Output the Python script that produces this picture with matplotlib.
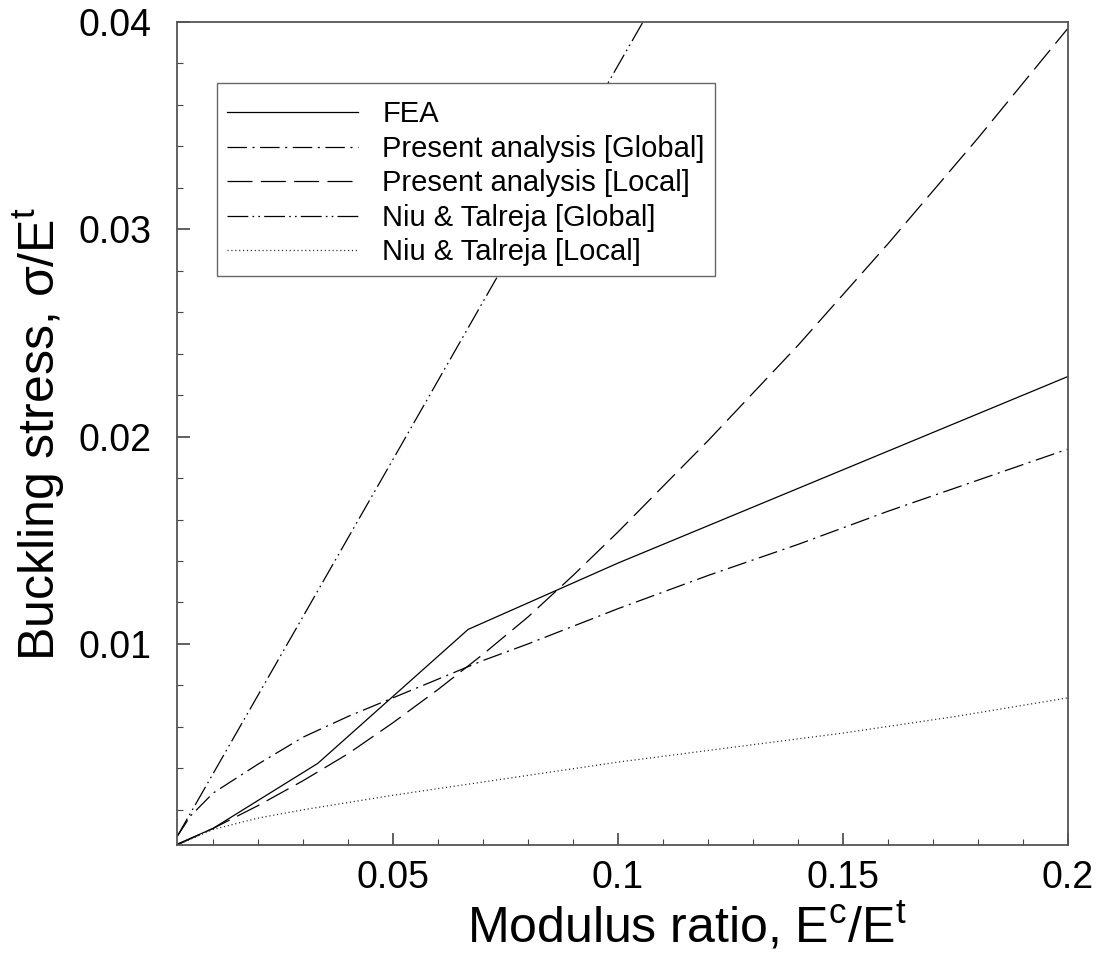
import matplotlib
matplotlib.use('Agg')
import matplotlib.pyplot as plt
from matplotlib.ticker import MultipleLocator, FixedLocator

plt.rcParams['font.family'] = ['Liberation Sans', 'DejaVu Sans']
plt.rcParams['mathtext.fontset'] = 'custom'
plt.rcParams['mathtext.rm'] = 'Liberation Sans'
plt.rcParams['lines.scale_dashes'] = False

# FEA
fea_x = [0.002, 0.010, 0.0333, 0.0667, 0.100, 0.150, 0.200]
fea_y = [0.00034, 0.0011, 0.00424, 0.0107, 0.0139, 0.0184, 0.0229]

# Present analysis [Global]
pg_x = [0.002, 0.005, 0.010, 0.015, 0.020, 0.030, 0.040, 0.050, 0.060, 0.070,
        0.080, 0.100, 0.120, 0.140, 0.160, 0.180, 0.200]
pg_y = [0.0007, 0.0017, 0.0028, 0.0035, 0.0042, 0.0055, 0.0065, 0.0074, 0.0083, 0.0092,
        0.0100, 0.0117, 0.0133, 0.0148, 0.0164, 0.0179, 0.0194]

# Present analysis [Local]
pl_x = [0.002, 0.010, 0.020, 0.030, 0.040, 0.050, 0.060, 0.070, 0.080, 0.090,
        0.100, 0.120, 0.140, 0.160, 0.180, 0.200]
pl_y = [0.0003, 0.0011, 0.0022, 0.0034, 0.0047, 0.0062, 0.0078, 0.0095, 0.0113, 0.0133,
        0.0154, 0.0198, 0.0244, 0.0293, 0.0344, 0.0397]

# Niu & Talreja [Global]
ng_x = [0.002, 0.050, 0.100, 0.150, 0.200]
ng_y = [0.0007, 0.0189, 0.0379, 0.0568, 0.0758]

# Niu & Talreja [Local]
nl_x = [0.002, 0.010, 0.020, 0.030, 0.050, 0.075, 0.100, 0.125, 0.150, 0.175, 0.200]
nl_y = [0.0003, 0.00105, 0.0016, 0.0020, 0.0027, 0.0035, 0.0043, 0.0050, 0.0057, 0.0065, 0.0074]

fig = plt.figure(figsize=(11.04, 9.63), dpi=100)
ax = fig.add_axes([0.1603, 0.1225, 0.8071, 0.8547])

lw = 0.9
ax.plot(fea_x, fea_y, color='black', lw=lw, ls='-', label='FEA')
ax.plot(pg_x, pg_y, color='black', lw=lw, ls=(0, (14, 4, 1.5, 4)),
        label='Present analysis [Global]')
ax.plot(pl_x, pl_y, color='black', lw=lw, ls=(0, (18, 6)),
        label='Present analysis [Local]')
ax.plot(ng_x, ng_y, color='black', lw=lw, ls=(0, (15, 3, 1.2, 3, 1.2, 3)),
        label='Niu & Talreja [Global]')
ax.plot(nl_x, nl_y, color='#222222', lw=lw, ls=(0, (0.8, 2.0)),
        label='Niu & Talreja [Local]')

ax.set_xlim(0.002, 0.2)
ax.set_ylim(0.0003, 0.04)

ax.xaxis.set_major_locator(FixedLocator([0.05, 0.1, 0.15, 0.2]))
ax.set_xticklabels(['0.05', '0.1', '0.15', '0.2'])
ax.xaxis.set_minor_locator(MultipleLocator(0.01))
ax.yaxis.set_major_locator(FixedLocator([0.01, 0.02, 0.03, 0.04]))
ax.set_yticklabels(['0.01', '0.02', '0.03', '0.04'])
ax.yaxis.set_minor_locator(MultipleLocator(0.002))

ax.tick_params(which='both', direction='in', color='#444444')
ax.tick_params(which='major', length=9, width=1.2, labelsize=27)
ax.tick_params(which='minor', length=4, width=0.8)
ax.tick_params(axis='x', which='major', pad=11)
ax.tick_params(axis='y', which='major', pad=18)

for s in ax.spines.values():
    s.set_color('#555555')
    s.set_linewidth(1.3)

ax.set_xlabel(r'Modulus ratio, $\mathregular{E^c/E^t}$', fontsize=36)
ax.set_ylabel(r'Buckling stress, σ/$\mathregular{E^t}$', fontsize=36)
ax.xaxis.set_label_coords(0.572, -0.066)
ax.yaxis.set_label_coords(-0.125, 0.5)

leg = ax.legend(loc='upper left', bbox_to_anchor=(0.0449, 0.926), borderaxespad=0,
                fontsize=21, handlelength=4.5, handletextpad=0.82, labelspacing=0.22,
                borderpad=0.35, fancybox=False, framealpha=1, edgecolor='#666666',
                title=' ', title_fontsize=1)
leg.get_frame().set_linewidth(1.0)

fig.savefig('out.png', dpi=100)
